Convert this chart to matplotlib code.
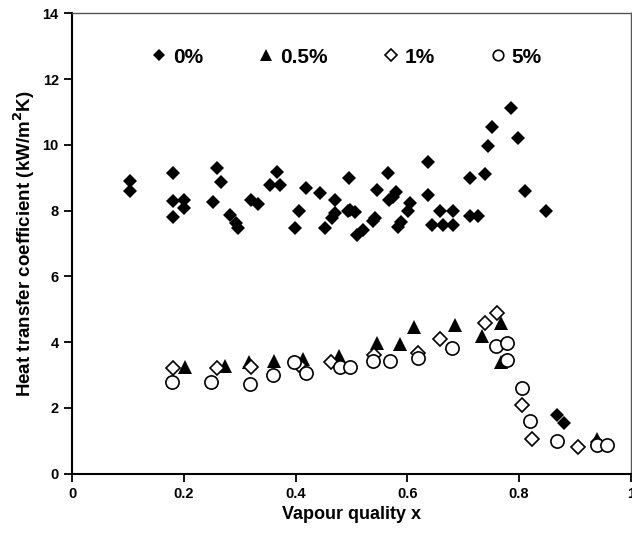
import matplotlib.pyplot as plt
import numpy as np

plt.rcParams['font.family'] = ['Liberation Sans', 'DejaVu Sans']
plt.rcParams['font.weight'] = 'bold'

# 0 % series (filled diamonds)
x0 = [0.104, 0.104, 0.18, 0.18, 0.18, 0.2, 0.2, 0.26, 0.266, 0.252, 0.282, 0.294,
      0.297, 0.321, 0.333, 0.367, 0.355, 0.373, 0.406, 0.399, 0.419, 0.443, 0.471,
      0.47, 0.466, 0.452, 0.495, 0.494, 0.498, 0.507, 0.51, 0.52, 0.543, 0.538,
      0.546, 0.566, 0.574, 0.58, 0.568, 0.583, 0.589, 0.605, 0.602, 0.638, 0.638,
      0.645, 0.659, 0.664, 0.681, 0.681, 0.7125, 0.7125, 0.727, 0.739, 0.744,
      0.751, 0.785, 0.799, 0.811, 0.849, 0.868, 0.88, 0.94]
y0 = [8.90, 8.60, 9.14, 8.30, 7.80, 8.33, 8.08, 9.31, 8.88, 8.27, 7.87, 7.63,
      7.46, 8.33, 8.20, 9.18, 8.78, 8.77, 8.00, 7.48, 8.70, 8.55, 8.33,
      7.92, 7.77, 7.48, 9.00, 7.99, 8.02, 7.97, 7.25, 7.40, 7.77, 7.70,
      8.63, 9.14, 8.43, 8.58, 8.33, 7.51, 7.66, 8.24, 8.00, 9.47, 8.48,
      7.55, 8.00, 7.55, 8.00, 7.55, 9.00, 7.84, 7.84, 9.13, 9.98,
      10.54, 11.12, 10.22, 8.61, 8.00, 1.78, 1.53, 0.95]

# 0.5 % series (filled triangles)
x05 = [0.202, 0.274, 0.317, 0.361, 0.413, 0.477, 0.545, 0.587, 0.6125, 0.685,
       0.733, 0.767, 0.767, 0.94]
y05 = [3.25, 3.27, 3.40, 3.43, 3.50, 3.58, 3.96, 3.93, 4.45, 4.52,
       4.19, 4.57, 3.40, 1.05]

# 1 % series (open diamonds)
x1 = [0.18, 0.26, 0.321, 0.406, 0.464, 0.541, 0.62, 0.659, 0.739, 0.76,
      0.805, 0.824, 0.906]
y1 = [3.22, 3.22, 3.25, 3.30, 3.40, 3.61, 3.66, 4.09, 4.59, 4.88,
      2.09, 1.04, 0.82]

# 5 % series (open circles)
x5 = [0.179, 0.249, 0.318, 0.36, 0.398, 0.419, 0.479, 0.498, 0.539, 0.569,
      0.62, 0.68, 0.758, 0.779, 0.779, 0.805, 0.819, 0.868, 0.94, 0.958]
y5 = [2.80, 2.80, 2.72, 3.00, 3.40, 3.05, 3.23, 3.23, 3.42, 3.42,
      3.51, 3.81, 3.88, 3.96, 3.45, 2.62, 1.60, 1.00, 0.87, 0.87]

labels = ['0%', '0.5%', '1%', '5%']

fig = plt.figure(figsize=(6.32, 5.37), dpi=100)
ax = fig.add_axes([0.114, 0.118, 0.884, 0.857])

ax.plot(x0, y0, 'D', color='black', ms=7.6, mew=0, label=labels[0])
ax.plot(x05, y05, '^', color='black', ms=10, mew=0, label=labels[1])
ax.plot(x1, y1, 'D', mfc='white', mec='black', ms=7.2, mew=1.2, label=labels[2])
ax.plot(x5, y5, 'o', mfc='white', mec='black', ms=9.5, mew=1.2, label=labels[3])

ax.set_xlim(0, 1)
ax.set_ylim(0, 14)
ax.set_xticks(np.arange(0, 1.01, 0.2))
ax.set_xticklabels(['0', '0.2', '0.4', '0.6', '0.8', '1'])
ax.set_yticks(np.arange(0, 15, 2))
ax.tick_params(direction='out', length=6, width=1.3, labelsize=10.5)
for sp in ax.spines.values():
    sp.set_linewidth(1.5)
ax.spines['top'].set_linewidth(1.0)
ax.spines['right'].set_linewidth(1.0)
ax.spines['top'].set_color('#555555')
ax.spines['right'].set_color('#555555')

ax.set_xlabel('Vapour quality x', fontsize=13, fontweight='bold')
ax.set_ylabel('Heat transfer coefficient (kW/m$^\\mathbf{2}$K)', fontsize=13.5,
              fontweight='bold')

ax.legend(loc='center', bbox_to_anchor=(0.493, 0.905), ncol=4, frameon=False,
          prop={'size': 15, 'weight': 'bold'}, markerscale=0.8,
          handlelength=0.6, handletextpad=0.35, columnspacing=2.75)

fig.savefig('out.png', dpi=100)
